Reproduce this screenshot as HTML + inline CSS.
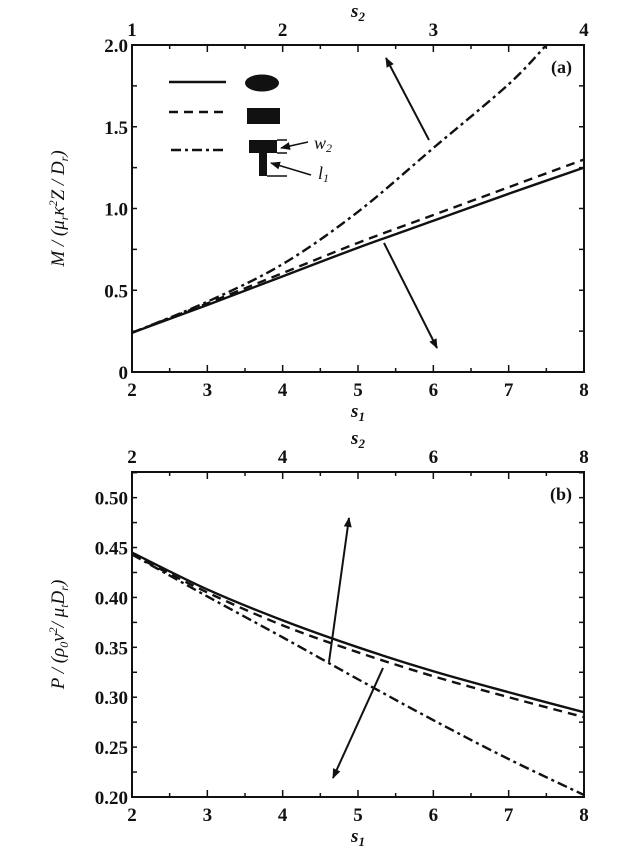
<!DOCTYPE html>
<html><head><meta charset="utf-8"><style>
body{margin:0;background:#fff}
svg{display:block}
text{font-family:"Liberation Serif",serif;fill:#111}
</style></head><body>
<svg id="fig" width="630" height="854" viewBox="0 0 630 854" xmlns="http://www.w3.org/2000/svg">
<defs><marker id="ah" markerWidth="10" markerHeight="8" refX="9" refY="4" orient="auto" markerUnits="userSpaceOnUse"><path d="M0,0 L10,4 L0,8 Z" fill="#111"/></marker></defs>
<g id="pa"></g>
<g id="pb"></g>
</svg>
<script>
const categoriesS1=[2,3,4,5,6,7,8];
const aSolid=[0.24,0.41,0.585,0.76,0.925,1.09,1.25];
const aDashed=[0.24,0.42,0.605,0.79,0.96,1.13,1.30];
const aDashDotX=[2,3,4,5,6,7,7.5];
const aDashDot=[0.24,0.43,0.66,0.98,1.37,1.76,2.0];
const bSolid=[0.445,0.408,0.377,0.350,0.326,0.305,0.285];
const bDashed=[0.443,0.405,0.372,0.345,0.321,0.300,0.280];
const bDashDot=[0.443,0.401,0.360,0.318,0.277,0.238,0.202];
const aYTicks=[0,0.5,1.0,1.5,2.0];
const aYLabels=["0","0.5","1.0","1.5","2.0"];
const bYTicks=[0.20,0.25,0.30,0.35,0.40,0.45,0.50];
const bYLabels=["0.20","0.25","0.30","0.35","0.40","0.45","0.50"];
const xTicks=[2,3,4,5,6,7,8];
const aTopLabels=["1","2","3","4"];
const bTopLabels=["2","4","6","8"];
const NS="http://www.w3.org/2000/svg";
function mk(parent,tag,attrs,txt){const e=document.createElementNS(NS,tag);for(const k in attrs)e.setAttribute(k,attrs[k]);if(txt!==undefined)e.textContent=txt;parent.appendChild(e);return e;}
function smooth(pts){let d="M"+pts[0][0]+","+pts[0][1];for(let i=0;i<pts.length-1;i++){const p0=pts[i-1]||pts[i],p1=pts[i],p2=pts[i+1],p3=pts[i+2]||p2;const c1=[p1[0]+(p2[0]-p0[0])/6,p1[1]+(p2[1]-p0[1])/6],c2=[p2[0]-(p3[0]-p1[0])/6,p2[1]-(p3[1]-p1[1])/6];d+=" C"+c1+" "+c2+" "+p2;}return d;}
function panel(g,box,ymin,ymax,yT,yL,yMinor,topLabels,topPos,series,ylabel,tag){
 const X=v=>box.l+(v-2)/6*(box.r-box.l), Y=v=>box.b-(v-ymin)/(ymax-ymin)*(box.b-box.t);
 const cid="c"+tag;const cp=mk(g,"clipPath",{id:cid});mk(cp,"rect",{x:box.l,y:box.t,width:box.r-box.l,height:box.b-box.t});
 series.forEach(s=>{const p=mk(g,"path",{d:smooth(s.xs.map((x,i)=>[X(x),Y(s.ys[i])])),fill:"none",stroke:"#111","stroke-width":2.4,"stroke-dasharray":s.dash,"clip-path":"url(#"+cid+")"});
 
 });
 const fr=mk(g,"rect",{x:box.l,y:box.t,width:box.r-box.l,height:box.b-box.t,fill:"none",stroke:"#111","stroke-width":2});
 
 
 for(let v=2;v<=8.001;v+=0.5){const x=X(v),L=(Math.abs(v-Math.round(v))<1e-6)?7:4;mk(g,"line",{x1:x,x2:x,y1:box.b,y2:box.b-L,stroke:"#111","stroke-width":1.5});mk(g,"line",{x1:x,x2:x,y1:box.t,y2:box.t+L,stroke:"#111","stroke-width":1.5});}
 for(let v=ymin;v<=ymax+1e-9;v+=yMinor){const y=Y(v);mk(g,"line",{x1:box.l,x2:box.l+5,y1:y,y2:y,stroke:"#111","stroke-width":1.5});mk(g,"line",{x1:box.r,x2:box.r-5,y1:y,y2:y,stroke:"#111","stroke-width":1.5});}
 xTicks.forEach(v=>{const t=mk(g,"text",{x:X(v),y:box.b+24,"text-anchor":"middle","font-size":19,"font-weight":"bold"},String(v));});
 yT.forEach((v,i)=>{const t=mk(g,"text",{x:box.l-4,y:Y(v)+7,"text-anchor":"end","font-size":19,"font-weight":"bold"},yL[i]);});
 topLabels.forEach((l,i)=>{const t=mk(g,"text",{x:X(topPos[i]),y:box.t-9,"text-anchor":"middle","font-size":19,"font-weight":"bold"},l);});
 const xt=mk(g,"text",{x:(box.l+box.r)/2,y:box.b+45,"text-anchor":"middle","font-size":19,"font-style":"italic","font-weight":"bold"});xt.innerHTML='s<tspan font-size="13" dy="4">1</tspan>';
 
 const tt=mk(g,"text",{x:(box.l+box.r)/2,y:box.t-28,"text-anchor":"middle","font-size":19,"font-style":"italic","font-weight":"bold"});tt.innerHTML='s<tspan font-size="13" dy="4">2</tspan>';
 
 const yt=mk(g,"text",{x:0,y:0,"text-anchor":"middle","font-size":19,"font-style":"italic",transform:"translate(64,"+((box.t+box.b)/2)+") rotate(-90)"});yt.innerHTML=ylabel;
 
 const pl=mk(g,"text",{x:box.r-12,y:box.t+28,"text-anchor":"end","font-size":18,"font-weight":"bold"},"("+tag+")");
 
 return {X,Y};
}
const ga=document.getElementById("pa"),gb=document.getElementById("pb");
panel(ga,{l:132,r:584,t:45,b:372},0,2,aYTicks,aYLabels,0.25,aTopLabels,[2,4,6,8],[
 {xs:categoriesS1,ys:aSolid,dash:"",name:"series-ellipse"},
 {xs:categoriesS1,ys:aDashed,dash:"9,6",name:"series-rectangle"},
 {xs:aDashDotX,ys:aDashDot,dash:"10,4,3,4",name:"series-t-shape"}],
 'M / (μ<tspan font-size="12" dy="4">r</tspan><tspan dy="-4">κ</tspan><tspan font-size="12" dy="-7">2</tspan><tspan dy="7">Z / D</tspan><tspan font-size="12" dy="4">r</tspan><tspan dy="-4">)</tspan>',"a");
panel(gb,{l:132,r:584,t:472,b:797},0.2,0.5257,bYTicks,bYLabels,0.025,bTopLabels,[2,4,6,8],[
 {xs:categoriesS1,ys:bSolid,dash:"",name:"series-ellipse"},
 {xs:categoriesS1,ys:bDashed,dash:"9,6",name:"series-rectangle"},
 {xs:categoriesS1,ys:bDashDot,dash:"10,4,3,4",name:"series-t-shape"}],
 'P / (ρ<tspan font-size="12" dy="4">0</tspan><tspan dy="-4">v</tspan><tspan font-size="12" dy="-7">2</tspan><tspan dy="7">/ μ</tspan><tspan font-size="12" dy="4">t</tspan><tspan dy="-4">D</tspan><tspan font-size="12" dy="4">r</tspan><tspan dy="-4">)</tspan>',"b");
function arrow(g,x1,y1,x2,y2){const a=mk(g,"line",{x1,y1,x2,y2,stroke:"#111","stroke-width":2,"marker-end":"url(#ah)"});}
arrow(ga,429,140,386,58);arrow(ga,384,243,437,348);
arrow(gb,329,662,349,518);arrow(gb,383,668,333,778);
const lg=mk(ga,"g",{});
mk(lg,"line",{x1:169,x2:226,y1:82,y2:82,stroke:"#111","stroke-width":2.4});
mk(lg,"line",{x1:169,x2:226,y1:112,y2:112,stroke:"#111","stroke-width":2.4,"stroke-dasharray":"9,6"});
mk(lg,"line",{x1:171,x2:226,y1:150,y2:150,stroke:"#111","stroke-width":2.4,"stroke-dasharray":"10,4,3,4"});
mk(lg,"ellipse",{cx:262,cy:83,rx:17,ry:8.5,fill:"#111"});
mk(lg,"rect",{x:247,y:108,width:33,height:16,fill:"#111"});
mk(lg,"rect",{x:249,y:140,width:28,height:13,fill:"#111"});
mk(lg,"rect",{x:259,y:153,width:8,height:23,fill:"#111"});
mk(lg,"path",{d:"M277,140 H287 M277,153 H287 M267,176 H287",stroke:"#111","stroke-width":1.5,fill:"none"});
mk(lg,"line",{x1:308,y1:142,x2:281,y2:148,stroke:"#111","stroke-width":1.5,"marker-end":"url(#ah)"});
mk(lg,"line",{x1:311,y1:175,x2:271,y2:163,stroke:"#111","stroke-width":1.5,"marker-end":"url(#ah)"});
const w2=mk(lg,"text",{x:314,y:149,"font-size":18,"font-style":"italic"});w2.innerHTML='w<tspan font-size="12" dy="3">2</tspan>';
const l1=mk(lg,"text",{x:318,y:179,"font-size":18,"font-style":"italic"});l1.innerHTML='l<tspan font-size="12" dy="3">1</tspan>';
</script>
</body></html>
